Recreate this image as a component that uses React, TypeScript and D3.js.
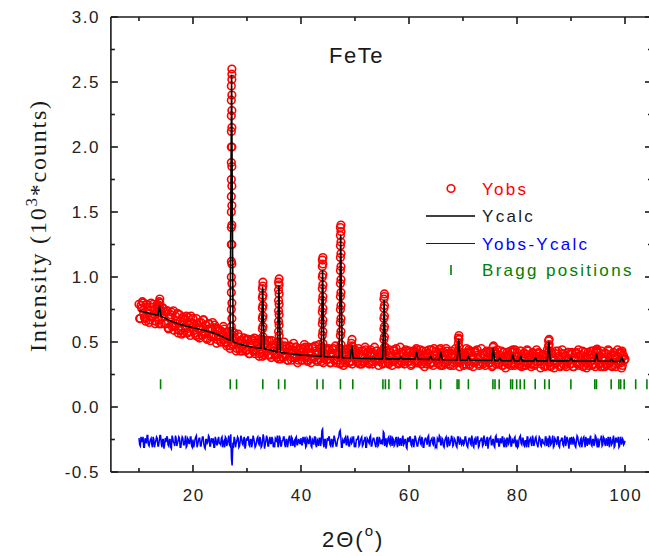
import React from "react";
import * as d3 from "d3";

// ---------- data ----------
const obsStart = 10; // 2θ of first observed point (grid A)
const obsStartB = 10.125; // 2θ of first observed point (grid B, interleaved)
const obsStep = 0.25; // 2θ step of each grid

const yObs = [
  0.79,0.68,0.76,0.80,0.69,0.66,0.79,0.72,0.67,0.80,0.70,0.75,0.64,0.72,0.77,0.64,0.74,0.69,0.76,0.64,
  0.64,0.74,0.60,0.69,0.73,0.63,0.59,0.70,0.66,0.57,0.71,0.59,0.65,0.57,0.68,0.70,0.57,0.63,0.55,0.65,
  0.68,0.59,0.55,0.63,0.61,0.53,0.65,0.55,0.67,0.58,0.53,0.60,0.64,0.51,0.60,0.54,0.63,0.54,0.52,0.59,
  0.59,0.50,0.56,0.60,0.50,0.47,0.57,0.52,0.47,0.58,0.48,0.53,0.43,0.50,0.54,0.43,0.51,0.47,0.53,0.43,
  0.44,0.52,0.41,0.48,0.52,0.44,0.41,0.50,0.47,0.39,0.51,0.42,0.47,0.40,0.49,0.51,0.40,0.45,0.38,0.46,
  0.48,0.41,0.38,0.45,0.43,0.37,0.47,0.38,0.47,0.40,0.36,0.43,0.46,0.36,0.44,0.38,0.46,0.38,0.36,0.44,
  0.45,0.36,0.43,0.46,0.38,0.35,0.45,0.41,0.37,0.46,0.38,0.43,0.35,0.41,0.45,0.35,0.43,0.39,0.45,0.36,
  0.37,0.44,0.34,0.41,0.45,0.37,0.34,0.42,0.40,0.33,0.44,0.36,0.40,0.34,0.42,0.45,0.35,0.39,0.33,0.41,
  0.44,0.37,0.34,0.41,0.39,0.33,0.43,0.35,0.44,0.37,0.34,0.40,0.42,0.33,0.41,0.36,0.43,0.36,0.35,0.41,
  0.41,0.34,0.40,0.43,0.35,0.33,0.42,0.38,0.35,0.44,0.36,0.41,0.33,0.39,0.42,0.34,0.41,0.37,0.43,0.35,
  0.35,0.42,0.33,0.39,0.43,0.36,0.34,0.41,0.38,0.33,0.43,0.35,0.39,0.33,0.41,0.44,0.34,0.38,0.32,0.40,
  0.43,0.36,0.33,0.40,0.38,0.32,0.42,0.34,0.43,0.36,0.33,0.39,0.41,0.32,0.40,0.35,0.42,0.35,0.34,0.40,
  0.41,0.33,0.39,0.42,0.35,0.32,0.42,0.37,0.34,0.43,0.35,0.40,0.32,0.38,0.41,0.33,0.40,0.36,0.42,0.34,
  0.34,0.41,0.32,0.38,0.42,0.36,0.33,0.40,0.37,0.32,0.42,0.35,0.38,0.33,0.40,0.43,0.34,0.37,0.32,0.39,
  0.42,0.35,0.32,0.39,0.37,0.32,0.41,0.34,0.43,0.36,0.33,0.38,0.41,0.32,0.39,0.35,0.42,0.35,0.33,0.40,
  0.40,0.32,0.38,0.42,0.34,0.31,0.41,0.36,0.33,0.43,0.35,0.39,0.31,0.37,0.41,0.32,0.39,0.35,0.42,0.33,
  0.33,0.41,0.31,0.38,0.42,0.35,0.32,0.40,0.36,0.31,0.42,0.34,0.37,0.32,0.40,0.43,0.33,0.36,0.31,0.39,
  0.42,0.34,0.31,0.38,0.36,0.31,0.41,0.33,0.43,0.35,0.32,0.37,0.40,0.31,0.38,0.34,0.42,0.34,0.32,0.39,
  0.37,
];

const yObsB = [
  0.68,0.78,0.81,0.72,0.68,0.79,0.74,0.65,0.77,0.69,0.79,0.71,0.66,0.79,0.67,0.73,0.64,0.76,0.70,0.73,
  0.74,0.61,0.69,0.71,0.62,0.74,0.62,0.64,0.72,0.59,0.66,0.56,0.69,0.67,0.61,0.57,0.69,0.58,0.70,0.61,
  0.64,0.57,0.68,0.54,0.65,0.60,0.55,0.67,0.56,0.63,0.52,0.64,0.60,0.54,0.65,0.55,0.61,0.49,0.60,0.55,
  0.50,0.58,0.62,0.52,0.49,0.58,0.54,0.45,0.56,0.48,0.57,0.49,0.45,0.56,0.45,0.51,0.43,0.53,0.48,0.52,
  0.52,0.41,0.48,0.51,0.43,0.53,0.43,0.45,0.52,0.41,0.48,0.39,0.51,0.48,0.43,0.40,0.51,0.40,0.51,0.43,
  0.46,0.40,0.50,0.37,0.47,0.43,0.38,0.50,0.40,0.45,0.36,0.47,0.43,0.38,0.49,0.40,0.46,0.34,0.44,0.40,
  0.36,0.45,0.48,0.39,0.36,0.46,0.42,0.34,0.45,0.38,0.47,0.40,0.36,0.48,0.37,0.42,0.34,0.45,0.40,0.44,
  0.45,0.34,0.41,0.44,0.36,0.47,0.36,0.38,0.45,0.34,0.41,0.32,0.44,0.42,0.37,0.34,0.45,0.35,0.46,0.38,
  0.41,0.35,0.45,0.33,0.43,0.39,0.34,0.46,0.36,0.42,0.33,0.44,0.40,0.35,0.46,0.37,0.43,0.32,0.42,0.38,
  0.33,0.42,0.46,0.37,0.34,0.44,0.40,0.32,0.43,0.36,0.45,0.38,0.34,0.46,0.35,0.41,0.33,0.44,0.39,0.43,
  0.43,0.32,0.39,0.42,0.34,0.45,0.35,0.37,0.44,0.33,0.40,0.31,0.43,0.41,0.36,0.33,0.44,0.34,0.45,0.37,
  0.40,0.34,0.44,0.32,0.42,0.38,0.33,0.45,0.35,0.41,0.32,0.43,0.39,0.34,0.45,0.36,0.42,0.31,0.41,0.37,
  0.32,0.41,0.45,0.36,0.33,0.43,0.39,0.31,0.42,0.35,0.44,0.37,0.33,0.45,0.34,0.40,0.32,0.43,0.38,0.42,
  0.42,0.31,0.38,0.41,0.33,0.44,0.34,0.36,0.43,0.32,0.39,0.30,0.42,0.40,0.35,0.32,0.43,0.33,0.44,0.36,
  0.39,0.33,0.43,0.31,0.41,0.37,0.32,0.44,0.34,0.40,0.31,0.42,0.38,0.33,0.44,0.35,0.41,0.30,0.40,0.36,
  0.31,0.40,0.44,0.35,0.32,0.42,0.38,0.30,0.41,0.34,0.43,0.36,0.32,0.44,0.33,0.39,0.31,0.42,0.37,0.41,
  0.42,0.31,0.38,0.41,0.33,0.44,0.34,0.36,0.43,0.32,0.39,0.30,0.42,0.40,0.35,0.32,0.43,0.33,0.44,0.36,
  0.39,0.33,0.43,0.31,0.41,0.37,0.32,0.44,0.34,0.40,0.31,0.42,0.38,0.33,0.44,0.35,0.41,0.30,0.40,0.36,
];

const yDiff = [
  -0.24,-0.30,-0.25,-0.23,-0.31,-0.26,-0.22,-0.29,-0.27,-0.24,-0.31,-0.25,-0.28,-0.23,-0.30,-0.26,-0.22,-0.31,-0.25,-0.29,
  -0.27,-0.23,-0.30,-0.25,-0.32,-0.24,-0.28,-0.22,-0.30,-0.26,-0.24,-0.31,-0.23,-0.29,-0.26,-0.31,-0.24,-0.28,-0.23,-0.30,
  -0.25,-0.29,-0.23,-0.31,-0.26,-0.24,-0.30,-0.23,-0.28,-0.32,-0.25,-0.27,-0.23,-0.30,-0.26,-0.24,-0.31,-0.25,-0.29,-0.23,
  -0.28,-0.24,-0.31,-0.26,-0.23,-0.30,-0.25,-0.29,-0.21,-0.45,-0.30,-0.25,-0.28,-0.23,-0.31,-0.26,-0.24,-0.29,-0.23,-0.30,
  -0.26,-0.23,-0.30,-0.25,-0.28,-0.24,-0.31,-0.27,-0.23,-0.29,-0.25,-0.30,-0.21,-0.32,-0.26,-0.24,-0.30,-0.23,-0.28,-0.25,
  -0.29,-0.24,-0.27,-0.31,-0.22,-0.30,-0.26,-0.23,-0.29,-0.25,-0.31,-0.24,-0.27,-0.23,-0.30,-0.26,-0.24,-0.29,-0.25,-0.28,
  -0.24,-0.29,-0.26,-0.23,-0.30,-0.25,-0.28,-0.24,-0.31,-0.26,-0.23,-0.29,-0.25,-0.30,-0.24,-0.27,-0.17,-0.31,-0.25,-0.29,
  -0.26,-0.23,-0.30,-0.25,-0.28,-0.24,-0.30,-0.26,-0.23,-0.18,-0.31,-0.25,-0.28,-0.23,-0.29,-0.25,-0.30,-0.24,-0.27,-0.23,
  -0.29,-0.25,-0.24,-0.30,-0.26,-0.23,-0.29,-0.25,-0.31,-0.24,-0.27,-0.23,-0.30,-0.26,-0.24,-0.29,-0.25,-0.30,-0.23,-0.28,
  -0.25,-0.19,-0.30,-0.24,-0.28,-0.23,-0.29,-0.26,-0.24,-0.30,-0.25,-0.28,-0.23,-0.30,-0.26,-0.24,-0.29,-0.25,-0.31,-0.24,
  -0.27,-0.23,-0.30,-0.25,-0.28,-0.24,-0.30,-0.26,-0.23,-0.29,-0.25,-0.31,-0.24,-0.27,-0.23,-0.30,-0.26,-0.24,-0.29,-0.25,
  -0.30,-0.24,-0.27,-0.23,-0.29,-0.25,-0.31,-0.24,-0.28,-0.23,-0.30,-0.26,-0.24,-0.29,-0.25,-0.30,-0.23,-0.27,-0.24,-0.29,
  -0.25,-0.28,-0.23,-0.30,-0.26,-0.24,-0.29,-0.25,-0.31,-0.24,-0.27,-0.23,-0.30,-0.26,-0.24,-0.29,-0.25,-0.30,-0.23,-0.28,
  -0.24,-0.29,-0.25,-0.30,-0.23,-0.27,-0.24,-0.30,-0.26,-0.23,-0.29,-0.25,-0.31,-0.24,-0.28,-0.23,-0.30,-0.26,-0.24,-0.29,
  -0.25,-0.30,-0.23,-0.28,-0.24,-0.29,-0.26,-0.31,-0.23,-0.27,-0.24,-0.30,-0.25,-0.28,-0.23,-0.29,-0.26,-0.24,-0.30,-0.25,
  -0.28,-0.23,-0.30,-0.24,-0.22,-0.29,-0.25,-0.31,-0.24,-0.27,-0.23,-0.30,-0.26,-0.24,-0.29,-0.25,-0.30,-0.23,-0.28,-0.24,
  -0.29,-0.25,-0.24,-0.30,-0.26,-0.23,-0.29,-0.25,-0.31,-0.24,-0.27,-0.23,-0.30,-0.26,-0.24,-0.29,-0.25,-0.30,-0.22,-0.28,
  -0.24,-0.29,-0.25,-0.30,-0.23,-0.28,-0.24,-0.30,-0.26,-0.23,-0.29,-0.25,-0.31,-0.24,-0.27,-0.23,-0.30,-0.26,-0.24,-0.29,
  -0.26,
];

const yDiffB = [
  -0.29,-0.23,-0.27,-0.31,-0.24,-0.28,-0.22,-0.30,-0.25,-0.29,-0.23,-0.31,-0.26,-0.24,-0.30,-0.22,-0.28,-0.25,-0.32,-0.24,
  -0.23,-0.29,-0.25,-0.31,-0.22,-0.27,-0.30,-0.24,-0.28,-0.23,-0.31,-0.26,-0.24,-0.29,-0.22,-0.30,-0.25,-0.28,-0.23,-0.31,
  -0.31,-0.25,-0.22,-0.29,-0.24,-0.30,-0.26,-0.23,-0.31,-0.25,-0.28,-0.22,-0.30,-0.24,-0.27,-0.31,-0.23,-0.29,-0.25,-0.28,
  -0.29,-0.23,-0.27,-0.31,-0.24,-0.28,-0.22,-0.30,-0.40,-0.29,-0.23,-0.31,-0.26,-0.24,-0.30,-0.22,-0.28,-0.25,-0.32,-0.24,
  -0.23,-0.29,-0.25,-0.31,-0.22,-0.27,-0.30,-0.24,-0.28,-0.23,-0.31,-0.26,-0.24,-0.29,-0.22,-0.30,-0.25,-0.28,-0.23,-0.31,
  -0.31,-0.25,-0.22,-0.29,-0.24,-0.30,-0.26,-0.23,-0.31,-0.25,-0.28,-0.22,-0.30,-0.24,-0.27,-0.31,-0.23,-0.29,-0.25,-0.28,
  -0.29,-0.23,-0.27,-0.31,-0.24,-0.28,-0.22,-0.30,-0.25,-0.29,-0.23,-0.31,-0.26,-0.24,-0.30,-0.18,-0.28,-0.25,-0.32,-0.24,
  -0.23,-0.29,-0.25,-0.31,-0.22,-0.27,-0.30,-0.24,-0.19,-0.23,-0.31,-0.26,-0.24,-0.29,-0.22,-0.30,-0.25,-0.28,-0.23,-0.31,
  -0.31,-0.25,-0.22,-0.29,-0.24,-0.30,-0.26,-0.23,-0.31,-0.25,-0.28,-0.22,-0.30,-0.24,-0.27,-0.31,-0.23,-0.29,-0.25,-0.28,
  -0.29,-0.20,-0.27,-0.31,-0.24,-0.28,-0.22,-0.30,-0.25,-0.29,-0.23,-0.31,-0.26,-0.24,-0.30,-0.22,-0.28,-0.25,-0.32,-0.24,
  -0.23,-0.29,-0.25,-0.31,-0.22,-0.27,-0.30,-0.24,-0.28,-0.23,-0.31,-0.26,-0.24,-0.29,-0.22,-0.30,-0.25,-0.28,-0.23,-0.31,
  -0.31,-0.25,-0.22,-0.29,-0.24,-0.30,-0.26,-0.23,-0.31,-0.25,-0.28,-0.22,-0.30,-0.24,-0.27,-0.31,-0.23,-0.29,-0.25,-0.28,
  -0.29,-0.23,-0.27,-0.31,-0.24,-0.28,-0.22,-0.30,-0.25,-0.29,-0.23,-0.31,-0.26,-0.24,-0.30,-0.22,-0.28,-0.25,-0.32,-0.24,
  -0.23,-0.29,-0.25,-0.31,-0.22,-0.27,-0.30,-0.24,-0.28,-0.23,-0.31,-0.26,-0.24,-0.29,-0.22,-0.30,-0.25,-0.28,-0.23,-0.31,
  -0.31,-0.25,-0.22,-0.29,-0.24,-0.30,-0.26,-0.23,-0.31,-0.25,-0.28,-0.22,-0.30,-0.24,-0.27,-0.31,-0.23,-0.29,-0.25,-0.28,
  -0.29,-0.23,-0.27,-0.31,-0.24,-0.28,-0.22,-0.30,-0.25,-0.29,-0.23,-0.31,-0.26,-0.24,-0.30,-0.22,-0.28,-0.25,-0.32,-0.24,
  -0.23,-0.29,-0.25,-0.31,-0.22,-0.27,-0.30,-0.24,-0.28,-0.23,-0.31,-0.26,-0.24,-0.29,-0.22,-0.30,-0.25,-0.28,-0.23,-0.31,
  -0.31,-0.25,-0.22,-0.29,-0.24,-0.30,-0.26,-0.23,-0.31,-0.25,-0.28,-0.22,-0.30,-0.24,-0.27,-0.31,-0.23,-0.29,-0.25,-0.28,
];

// observed points on the Bragg peaks (columns of circles)
const obsPeakPos = [13.8, 27.15, 32.9, 35.9, 44.0, 47.35, 49.4, 55.4, 61.4, 65.8, 69.2, 71.0, 75.6, 79.2, 80.6, 85.9, 94.8, 99.4];
const obsPeakCols = [
  [0.74, 0.78, 0.81, 0.83, 0.80, 0.76],
  [0.62, 0.75, 0.88, 1.0, 1.12, 1.25, 1.38, 1.5, 1.62, 1.75, 1.88, 2.0, 2.12, 2.24, 2.36, 2.47, 2.56, 2.6,
   2.52, 2.4, 2.28, 2.15, 2.0, 1.85, 1.7, 1.55, 1.4, 1.25, 1.1, 0.95, 0.8, 0.68],
  [0.52, 0.6, 0.68, 0.76, 0.84, 0.91, 0.96, 0.93, 0.86, 0.78, 0.7, 0.62, 0.54],
  [0.5, 0.58, 0.66, 0.74, 0.82, 0.9, 0.96, 0.985, 0.94, 0.87, 0.79, 0.71, 0.63, 0.55, 0.48],
  [0.46, 0.55, 0.64, 0.73, 0.82, 0.91, 1.0, 1.08, 1.13, 1.15, 1.1, 1.02, 0.94, 0.85, 0.76, 0.67, 0.58, 0.49],
  [0.45, 0.55, 0.65, 0.75, 0.85, 0.95, 1.05, 1.15, 1.24, 1.32, 1.38, 1.4, 1.35, 1.27, 1.18, 1.08, 0.98, 0.88, 0.78, 0.68, 0.58, 0.48],
  [0.44, 0.49, 0.52, 0.47],
  [0.44, 0.52, 0.6, 0.68, 0.76, 0.83, 0.87, 0.85, 0.78, 0.7, 0.62, 0.54, 0.46],
  [0.42, 0.44, 0.41],
  [0.42, 0.45, 0.42],
  [0.43, 0.49, 0.53, 0.55, 0.52, 0.46],
  [0.42, 0.44],
  [0.42, 0.46, 0.47, 0.43],
  [0.42, 0.44],
  [0.43],
  [0.42, 0.47, 0.51, 0.52, 0.48, 0.43],
  [0.42, 0.445, 0.43],
  [0.42, 0.43],
];

// calculated profile: background knots + peak tops
const bgTheta = [10, 11, 12, 13, 14, 15, 16, 17, 18, 19, 20, 21, 22, 23, 24, 25, 26, 27, 28, 29, 30, 31, 32, 33, 34, 35, 36, 37, 38, 39, 40, 42, 45, 50, 55, 60, 65, 70, 80, 90, 100];
const bgCalc = [0.74, 0.73, 0.72, 0.71, 0.70, 0.68, 0.66, 0.645, 0.63, 0.62, 0.61, 0.60, 0.59, 0.58, 0.565, 0.55, 0.53, 0.51, 0.49, 0.48, 0.47, 0.46, 0.455, 0.45, 0.44, 0.43, 0.42, 0.415, 0.41, 0.405, 0.40, 0.395, 0.385, 0.375, 0.37, 0.37, 0.365, 0.36, 0.355, 0.355, 0.35];
const calcPeakPos = [13.8, 27.15, 32.9, 35.9, 44.0, 47.35, 49.4, 55.4, 58.5, 61.4, 64.0, 65.9, 69.2, 71.0, 75.6, 76.8, 79.2, 80.7, 83.4, 85.9, 90.0, 94.7, 97.5, 99.4];
const calcPeakTop = [0.78, 2.55, 0.92, 0.93, 1.05, 1.32, 0.47, 0.82, 0.385, 0.42, 0.39, 0.42, 0.52, 0.39, 0.45, 0.38, 0.40, 0.39, 0.38, 0.50, 0.38, 0.41, 0.37, 0.385];

const braggPos = [14.0, 26.9, 28.07, 32.93, 35.85, 37.02, 42.98, 44.07, 47.31, 49.59, 55.17, 55.63, 56.28, 58.41, 61.46, 63.93, 65.87, 68.91, 69.24, 71.0, 75.54, 75.93, 76.7, 78.83, 79.17, 79.94, 80.59, 81.37, 83.37, 85.13, 85.96, 89.98, 94.41, 94.72, 97.44, 98.87, 99.2, 99.85, 101.98, 104.06];
const braggLevel = 0.175;

const xMajorTicks = [20, 40, 60, 80, 100];
const xMinorTicks = [10, 30, 50, 70, 90];
const yMajorTicks = [-0.5, 0, 0.5, 1, 1.5, 2, 2.5, 3];
const yTickLabels = ["-0.5", "0.0", "0.5", "1.0", "1.5", "2.0", "2.5", "3.0"];
const yMinorTicks = [-0.25, 0.25, 0.75, 1.25, 1.75, 2.25, 2.75];

const legendLabels = ["Yobs", "Ycalc", "Yobs-Ycalc", "Bragg positions"];

const SANS = "'Liberation Sans', Arial, sans-serif";
const SERIF = "'Liberation Serif', 'Times New Roman', serif";
const RED = "#ff0000";
const BLUE = "#0000ff";
const GREEN = "#008000";
const AXIS = "#1a1a1a";

export default function App() {
  const W = 649, H = 556;
  const x = d3.scaleLinear().domain([4.8, 105]).range([110.9, 652]);
  const y = d3.scaleLinear().domain([-0.5, 3]).range([472, 17]);
  const [x0, x1] = x.range();
  const [yb, yt] = y.range();

  const bgAt = d3.scaleLinear().domain(bgTheta).range(bgCalc).clamp(true);
  const hw = 0.28;
  const calcPts: [number, number][] = [];
  bgTheta.forEach((t, i) => {
    if (!calcPeakPos.some((p) => Math.abs(p - t) < hw + 0.05)) calcPts.push([t, bgCalc[i]]);
  });
  calcPeakPos.forEach((p, i) => {
    calcPts.push([p - hw, bgAt(p - hw)]);
    calcPts.push([p, calcPeakTop[i]]);
    calcPts.push([p + hw, bgAt(p + hw)]);
  });
  calcPts.sort((a, b) => a[0] - b[0]);

  const line = d3.line<[number, number]>().x((d) => x(d[0])).y((d) => y(d[1]));
  const calcPath = line(calcPts) || "";
  const diffPts: [number, number][] = [
    ...yDiff.map((v, i) => [obsStart + i * obsStep, v] as [number, number]),
    ...yDiffB.map((v, i) => [obsStartB + i * obsStep, v] as [number, number]),
  ].sort((a, b) => a[0] - b[0]);
  const diffPath = line(diffPts) || "";

  const obsPts: [number, number][] = [
    ...yObs.map((v, i) => [obsStart + i * obsStep, v] as [number, number]),
    ...yObsB.map((v, i) => [obsStartB + i * obsStep, v] as [number, number]),
  ];
  obsPeakPos.forEach((p, j) => {
    const col = obsPeakCols[j];
    const half = Math.floor(col.length / 2);
    col.forEach((v, k) => obsPts.push([p + (k < half ? -0.05 : 0.05), v]));
  });

  const r = 3.8;
  const majorLen = 7, minorLen = 4;
  const lx = 451, lineX0 = 426, lineX1 = 475, textX = 482;
  const rows = [188.5, 216, 243.5, 270];
  const legendColors = [RED, "#1a1a1a", BLUE, GREEN];

  return (
    <div style={{ position: "absolute", left: 0, top: 0 }}>
      <svg width={W} height={H} style={{ display: "block", background: "#fff" }}>
        {/* observed points */}
        <g fill="none" stroke={RED} strokeWidth={1.6}>
          {obsPts.map((d, i) => (
            <circle key={i} cx={x(d[0])} cy={y(d[1])} r={r} />
          ))}
        </g>
        {/* calculated */}
        <path d={calcPath} fill="none" stroke="#000" strokeWidth={1.6} strokeLinejoin="round" />
        {/* difference */}
        <path d={diffPath} fill="none" stroke={BLUE} strokeWidth={1.5} />
        {/* Bragg positions */}
        <g stroke={GREEN} strokeWidth={1.6}>
          {braggPos.map((b, i) => (
            <line key={i} x1={x(b)} x2={x(b)} y1={y(braggLevel) - 5} y2={y(braggLevel) + 5} />
          ))}
        </g>

        {/* frame */}
        <g stroke={AXIS} strokeWidth={1.6} fill="none">
          <line x1={x0} x2={x0} y1={yt} y2={yb} />
          <line x1={x1} x2={x1} y1={yt} y2={yb} />
          <line x1={x0} x2={x1} y1={yb} y2={yb} />
          <line x1={x0} x2={x1} y1={yt} y2={yt} />
          {xMajorTicks.map((t) => (
            <g key={"xm" + t}>
              <line x1={x(t)} x2={x(t)} y1={yb} y2={yb - majorLen} />
              <line x1={x(t)} x2={x(t)} y1={yt} y2={yt + majorLen} />
            </g>
          ))}
          {xMinorTicks.map((t) => (
            <g key={"xn" + t}>
              <line x1={x(t)} x2={x(t)} y1={yb} y2={yb - minorLen} />
              <line x1={x(t)} x2={x(t)} y1={yt} y2={yt + minorLen} />
            </g>
          ))}
          {yMajorTicks.map((t) => (
            <g key={"ym" + t}>
              <line x1={x0} x2={x0 + majorLen} y1={y(t)} y2={y(t)} />
              <line x1={x1} x2={x1 - majorLen} y1={y(t)} y2={y(t)} />
            </g>
          ))}
          {yMinorTicks.map((t) => (
            <g key={"yn" + t}>
              <line x1={x0} x2={x0 + minorLen} y1={y(t)} y2={y(t)} />
              <line x1={x1} x2={x1 - minorLen} y1={y(t)} y2={y(t)} />
            </g>
          ))}
        </g>

        {/* tick labels */}
        <g fontFamily={SANS} fontSize={17} fill="#222" letterSpacing={1.5}>
          {xMajorTicks.map((t) => (
            <text key={"xl" + t} x={x(t) + 0.75} y={501} textAnchor="middle">{t}</text>
          ))}
          {yMajorTicks.map((t, i) => (
            <text key={"yl" + t} x={100} y={y(t)} dy="0.36em" textAnchor="end">{yTickLabels[i]}</text>
          ))}
        </g>

        {/* axis titles */}
        <text
          fontFamily={SERIF}
          fontSize={24}
          fill="#1a1a1a"
          letterSpacing={1.8}
          textAnchor="middle"
          transform={`translate(46, ${(yt + yb) / 2 - 19}) rotate(-90)`}
        >
          Intensity (10<tspan fontSize={17} dy={-9}>3</tspan><tspan dy={9}>*counts)</tspan>
        </text>
        <text fontFamily={SANS} fontSize={22} fill="#1a1a1a" letterSpacing={2} x={322} y={547}>
          2Θ(<tspan fontSize={15} dy={-11}>o</tspan><tspan dy={11}>)</tspan>
        </text>

        {/* sample label */}
        <text fontFamily={SANS} fontSize={22} fill="#1a1a1a" letterSpacing={1.5} x={329} y={63}>FeTe</text>

        {/* legend */}
        <circle cx={lx} cy={rows[0]} r={r} fill="none" stroke={RED} strokeWidth={1.6} />
        <line x1={lineX0} x2={lineX1} y1={rows[1]} y2={rows[1]} stroke="#000" strokeWidth={1.6} />
        <line x1={lineX0} x2={lineX1} y1={rows[2]} y2={rows[2]} stroke={BLUE} strokeWidth={1.2} />
        <line x1={lx} x2={lx} y1={rows[3] - 5} y2={rows[3] + 5} stroke={GREEN} strokeWidth={1.6} />
        <g fontFamily={SANS} fontSize={17} letterSpacing={2.3}>
          {legendLabels.map((l, i) => (
            <text key={l} x={textX} y={rows[i]} dy="0.36em" fill={legendColors[i]}>{l}</text>
          ))}
        </g>
      </svg>
    </div>
  );
}
